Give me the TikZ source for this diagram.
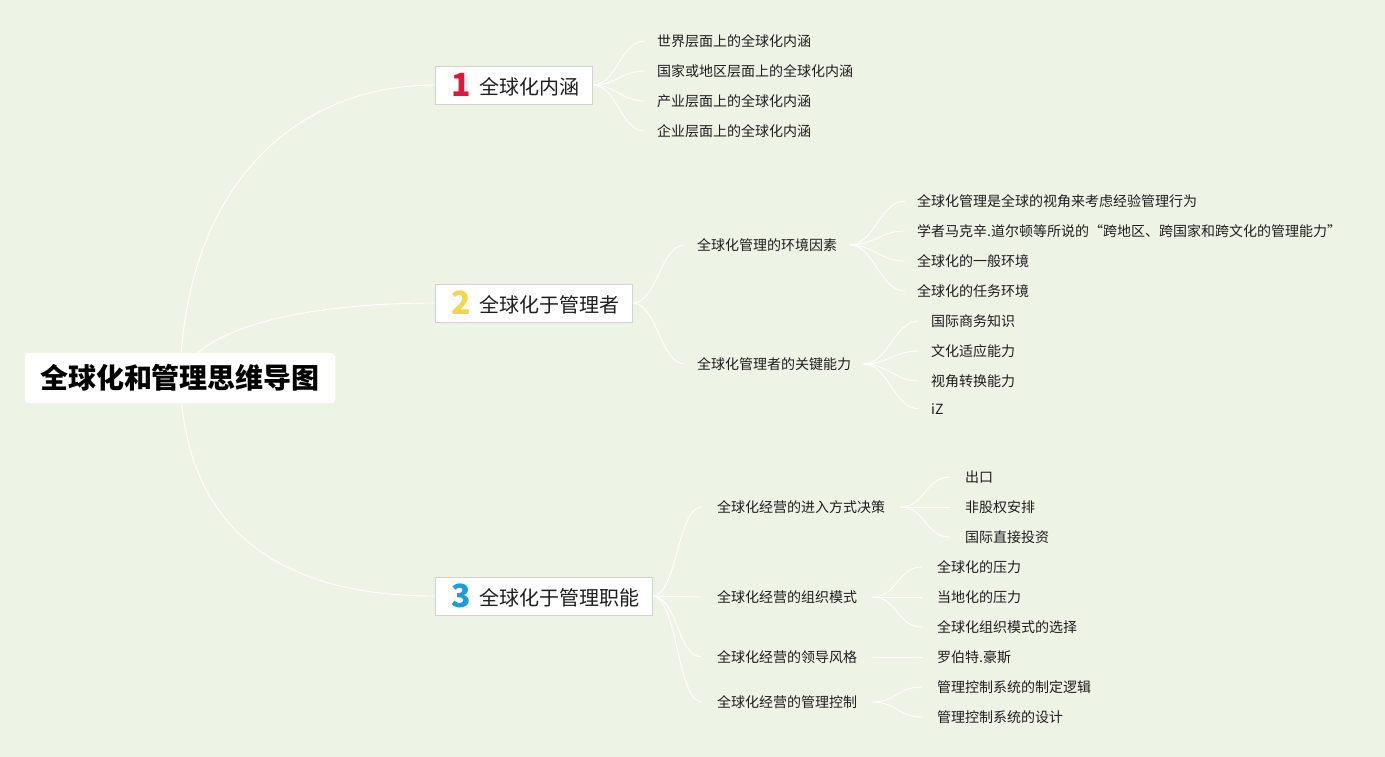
\documentclass[tikz,border=0pt]{standalone}
\usepackage{fontspec}
\newfontfamily\cjk{Noto Sans CJK SC}
\usetikzlibrary{backgrounds}
\definecolor{bgc}{HTML}{EDF4E6}
\definecolor{numred}{HTML}{E0173A}
\definecolor{numyel}{HTML}{F2D650}
\definecolor{numblu}{HTML}{1E9BDC}
\definecolor{txt}{HTML}{1E1E1E}
\definecolor{boxline}{HTML}{D2D2D2}
\tikzset{
  rootbox/.style={fill=white, rounded corners=3pt, minimum width=310pt, minimum height=50pt, inner sep=0pt,
    font=\cjk\bfseries\fontsize{28}{32}\selectfont, text=black},
  topicbox/.style={fill=white, draw=boxline, line width=0.8pt, minimum height=38pt, inner sep=0pt,
    font=\cjk\fontsize{20}{24}\selectfont, text=txt},
  leaf/.style={anchor=west, inner xsep=12pt, inner ysep=2pt, font=\cjk\fontsize{14}{16}\selectfont, text=txt},
  leafw/.style={leaf, inner xsep=15pt},
  conn/.style={draw=white, line width=0.9pt}
}
\newcommand{\fork}[2]{\draw[conn] (#1.east) .. controls +(25,0) and +(-25,0) .. (#2.west);}
\newcommand{\numd}[2]{\raisebox{-2.5pt}{\textcolor{#1}{\bfseries\fontsize{32}{34}\selectfont #2}}}
\begin{document}
\begin{tikzpicture}[x=1pt,y=-1pt]
\useasboundingbox (0,0) rectangle (1385,756);
% root
\node[rootbox] (root) at (180,378) {全球化和管理思维导图};
% level 1
\node[topicbox, minimum width=157pt] (b1) at (513.5,85) {\hspace{4pt}\numd{numred}{1}\hspace{8pt}全球化内涵};
\node[topicbox, minimum width=197pt] (b2) at (533.5,303) {\hspace{4pt}\numd{numyel}{2}\hspace{8pt}全球化于管理者};
\node[topicbox, minimum width=217pt] (b3) at (543.5,596) {\hspace{4pt}\numd{numblu}{3}\hspace{8pt}全球化于管理职能};
% branch 1 leaves
\node[leaf] (a1) at (645,41) {世界层面上的全球化内涵};
\node[leaf] (a2) at (645,71) {国家或地区层面上的全球化内涵};
\node[leaf] (a3) at (645,101) {产业层面上的全球化内涵};
\node[leaf] (a4) at (645,131) {企业层面上的全球化内涵};
% branch 2
\node[leaf] (env) at (685,245) {全球化管理的环境因素};
\node[leaf] (key) at (685,364) {全球化管理者的关键能力};
\node[leaf] (e1) at (905,201) {全球化管理是全球的视角来考虑经验管理行为};
\node[leaf] (e2) at (905,231) {学者马克辛.道尔顿等所说的“跨地区、跨国家和跨文化的管理能力”};
\node[leaf] (e3) at (905,261) {全球化的一般环境};
\node[leaf] (e4) at (905,291) {全球化的任务环境};
\node[leaf] (k1) at (919,321) {国际商务知识};
\node[leaf] (k2) at (919,351) {文化适应能力};
\node[leaf] (k3) at (919,381) {视角转换能力};
\node[leaf] (k4) at (919,409) {iZ};
% branch 3
\node[leafw] (ent) at (702,507) {全球化经营的进入方式决策};
\node[leafw] (org) at (702,597) {全球化经营的组织模式};
\node[leafw] (lead) at (702,657) {全球化经营的领导风格};
\node[leafw] (ctl) at (702,702) {全球化经营的管理控制};
\node[leafw] (n1) at (950,477) {出口};
\node[leafw] (n2) at (950,507) {非股权安排};
\node[leafw] (n3) at (950,537) {国际直接投资};
\node[leafw] (o1) at (922,567) {全球化的压力};
\node[leafw] (o2) at (922,597) {当地化的压力};
\node[leafw] (o3) at (922,627) {全球化组织模式的选择};
\node[leafw] (l1) at (922,657) {罗伯特.豪斯};
\node[leafw] (c1) at (922,687) {管理控制系统的制定逻辑};
\node[leafw] (c2) at (922,717) {管理控制系统的设计};
\begin{pgfonlayer}{background}
\fill[bgc] (-2,-2) rectangle (1387,758);
\draw[conn] (root.center) .. controls (185,180) and (300,85) .. (b1.west);
\draw[conn] (root.center) .. controls (200,320) and (330,303) .. (b2.west);
\draw[conn] (root.center) .. controls (185,560) and (320,596) .. (b3.west);
\fork{b1}{a1}\fork{b1}{a2}\fork{b1}{a3}\fork{b1}{a4}
\fork{b2}{env}\fork{b2}{key}
\fork{env}{e1}\fork{env}{e2}\fork{env}{e3}\fork{env}{e4}
\fork{key}{k1}\fork{key}{k2}\fork{key}{k3}\fork{key}{k4}
\fork{b3}{ent}\fork{b3}{org}\fork{b3}{lead}\fork{b3}{ctl}
\fork{ent}{n1}\fork{ent}{n2}\fork{ent}{n3}
\fork{org}{o1}\fork{org}{o2}\fork{org}{o3}
\fork{lead}{l1}
\fork{ctl}{c1}\fork{ctl}{c2}
\end{pgfonlayer}
\end{tikzpicture}
\end{document}
